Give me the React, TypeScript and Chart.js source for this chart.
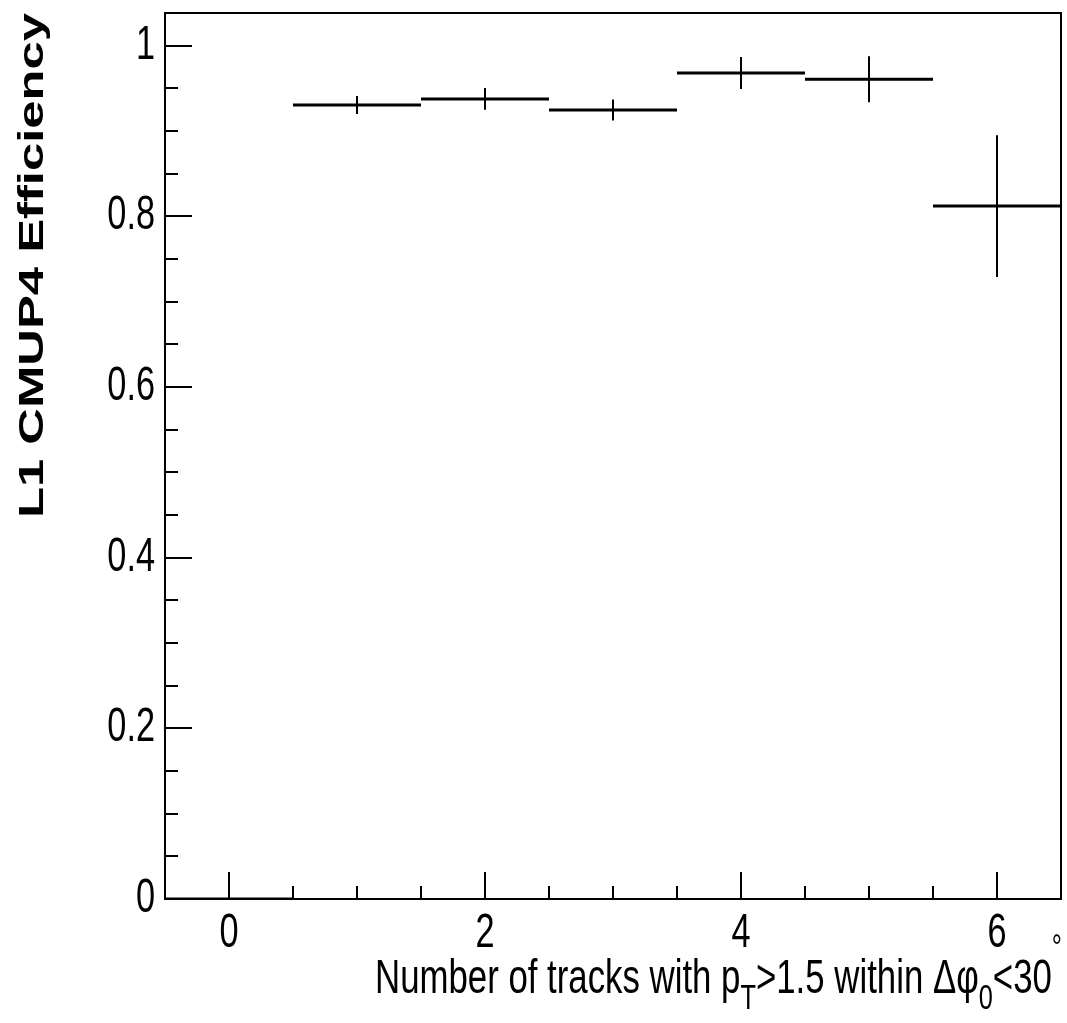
import React, { useEffect, useRef } from "react";
import { Chart, registerables } from "chart.js";

Chart.register(...registerables);

// ---- data ----
const binCenters = [0, 1, 2, 3, 4, 5, 6];
const binHalfWidth = 0.5;
const efficiency = [0, 0.9305, 0.9376, 0.9247, 0.968, 0.9606, 0.812];
const efficiencyErr = [0, 0.0105, 0.0127, 0.0123, 0.0188, 0.027, 0.083];
const xTickValues = [0, 2, 4, 6];
const xTickLabels = ["0", "2", "4", "6"];
const yTickValues = [0, 0.2, 0.4, 0.6, 0.8, 1];
const yTickLabels = ["0", "0.2", "0.4", "0.6", "0.8", "1"];
const xRange = [-0.5, 6.5];
const yRange = [0, 1.0383];
const yTitle = "L1 CMUP4 Efficiency";
const xTitleParts = [
  { text: "Number of tracks with p", mode: "n" },
  { text: "T", mode: "sub" },
  { text: ">1.5 within Δφ", mode: "n" },
  { text: "0", mode: "sub" },
  { text: "<30", mode: "n" },
  { text: "°", mode: "sup" },
];

const FONT = "'Liberation Sans', Arial, Helvetica, sans-serif";
const NARROW_X = 0.7; // horizontal condensing of the narrow Helvetica look

const rootPlugin = {
  id: "rootStyle",
  afterDatasetsDraw(chart: any) {
    const { ctx, chartArea } = chart;
    const xs = chart.scales.x;
    const ys = chart.scales.y;
    const { left, right, top, bottom } = chartArea;
    ctx.save();
    ctx.strokeStyle = "#000";
    ctx.lineCap = "butt";
    ctx.lineWidth = 2;
    // y ticks (inside)
    for (let i = 0; i <= 20; i++) {
      const v = i * 0.05;
      if (v > yRange[1]) break;
      const py = Math.round(ys.getPixelForValue(v));
      const len = i % 4 === 0 ? 27 : 13;
      ctx.beginPath();
      ctx.moveTo(left, py);
      ctx.lineTo(left + len, py);
      ctx.stroke();
    }
    // x ticks (inside)
    for (let i = -1; i <= 13; i++) {
      const v = i * 0.5;
      if (v < xRange[0] || v > xRange[1]) continue;
      const px = Math.round(xs.getPixelForValue(v));
      const len = i % 4 === 0 ? 27 : 13;
      ctx.beginPath();
      ctx.moveTo(px, bottom);
      ctx.lineTo(px, bottom - len);
      ctx.stroke();
    }
    // frame
    ctx.strokeRect(left, top, right - left, bottom - top);
    ctx.restore();
  },
  afterDraw(chart: any) {
    const { ctx, chartArea } = chart;
    const xs = chart.scales.x;
    const ys = chart.scales.y;
    ctx.save();
    ctx.fillStyle = "#000";
    ctx.textBaseline = "alphabetic";
    ctx.font = `49px ${FONT}`;
    // y tick labels
    yTickValues.forEach((v, i) => {
      const py = ys.getPixelForValue(v);
      ctx.save();
      ctx.translate(chartArea.left - 10, py + 13);
      ctx.scale(NARROW_X, 1);
      ctx.textAlign = "right";
      ctx.fillText(yTickLabels[i], 0, 0);
      ctx.restore();
    });
    // x tick labels
    xTickValues.forEach((v, i) => {
      const px = xs.getPixelForValue(v);
      ctx.save();
      ctx.translate(px, chartArea.bottom + 48);
      ctx.scale(NARROW_X, 1);
      ctx.textAlign = "center";
      ctx.fillText(xTickLabels[i], 0, 0);
      ctx.restore();
    });
    ctx.restore();

    // y title (rotated, bold, stretched along the text)
    ctx.save();
    ctx.fillStyle = "#000";
    ctx.font = `bold 35px ${FONT}`;
    const wy = ctx.measureText(yTitle).width;
    const targetY = 505;
    ctx.translate(43, 518);
    ctx.rotate(-Math.PI / 2);
    ctx.scale(targetY / wy, 1);
    ctx.textAlign = "left";
    ctx.textBaseline = "alphabetic";
    ctx.fillText(yTitle, 0, 0);
    ctx.restore();

    // x title with sub/superscripts
    ctx.save();
    ctx.fillStyle = "#000";
    const base = 48;
    const sizes: number[] = [];
    const widths: number[] = [];
    let total = 0;
    xTitleParts.forEach((p) => {
      const s = p.mode === "n" ? base : Math.round(base * 0.72);
      sizes.push(s);
      ctx.font = `${s}px ${FONT}`;
      const w = ctx.measureText(p.text).width;
      widths.push(w);
      total += w;
    });
    const targetX = 687;
    const sx = targetX / total;
    ctx.translate(1062 - targetX, 993);
    ctx.scale(sx, 1);
    ctx.textBaseline = "alphabetic";
    ctx.textAlign = "left";
    let cx = 0;
    xTitleParts.forEach((p, i) => {
      ctx.font = `${sizes[i]}px ${FONT}`;
      const dy = p.mode === "sub" ? 16 : p.mode === "sup" ? -34 : 0;
      ctx.fillText(p.text, cx, dy);
      cx += widths[i];
    });
    ctx.restore();
  },
};

export default function App() {
  const ref = useRef<HTMLCanvasElement | null>(null);
  useEffect(() => {
    const canvas = ref.current;
    if (!canvas) return;
    const hist: any[] = [];
    const errs: any[] = [];
    binCenters.forEach((c, i) => {
      hist.push({ x: c - binHalfWidth, y: efficiency[i] });
      hist.push({ x: c + binHalfWidth, y: efficiency[i] });
      hist.push({ x: c + binHalfWidth, y: null });
      if (efficiencyErr[i] > 0) {
        errs.push({ x: c, y: efficiency[i] - efficiencyErr[i] });
        errs.push({ x: c, y: efficiency[i] + efficiencyErr[i] });
        errs.push({ x: c, y: null });
      }
    });
    const chart = new Chart(canvas, {
      type: "scatter",
      data: {
        datasets: [
          {
            label: "efficiency",
            data: hist,
            showLine: true,
            spanGaps: false,
            borderColor: "#000",
            borderWidth: 3,
            borderCapStyle: "butt",
            pointRadius: 0,
            pointHoverRadius: 0,
          },
          {
            label: "error",
            data: errs,
            showLine: true,
            spanGaps: false,
            borderColor: "#000",
            borderWidth: 2,
            borderCapStyle: "butt",
            pointRadius: 0,
            pointHoverRadius: 0,
          },
        ],
      },
      options: {
        animation: false,
        responsive: false,
        devicePixelRatio: 1,
        events: [],
        layout: { padding: { top: 13, right: 6, left: 0, bottom: 0 } },
        plugins: {
          legend: { display: false },
          tooltip: { enabled: false },
          title: { display: false },
        },
        scales: {
          x: {
            type: "linear",
            min: xRange[0],
            max: xRange[1],
            grid: { display: false, drawTicks: false },
            border: { display: false },
            afterBuildTicks: (s: any) => {
              s.ticks = xTickValues.map((v) => ({ value: v }));
            },
            afterFit: (s: any) => {
              s.height = 124;
              s.paddingLeft = 0;
              s.paddingRight = 0;
            },
            ticks: { display: false },
          },
          y: {
            type: "linear",
            min: yRange[0],
            max: yRange[1],
            grid: { display: false, drawTicks: false },
            border: { display: false },
            afterBuildTicks: (s: any) => {
              s.ticks = yTickValues.map((v) => ({ value: v }));
            },
            afterFit: (s: any) => {
              s.width = 165;
              s.paddingTop = 0;
              s.paddingBottom = 0;
            },
            ticks: { display: false },
          },
        },
      },
      plugins: [rootPlugin],
    } as any);
    return () => chart.destroy();
  }, []);
  return (
    <div style={{ position: "fixed", left: 0, top: 0, width: 1067, height: 1023, background: "#fff" }}>
      <canvas ref={ref} width={1067} height={1023} style={{ display: "block", width: 1067, height: 1023 }} />
    </div>
  );
}
